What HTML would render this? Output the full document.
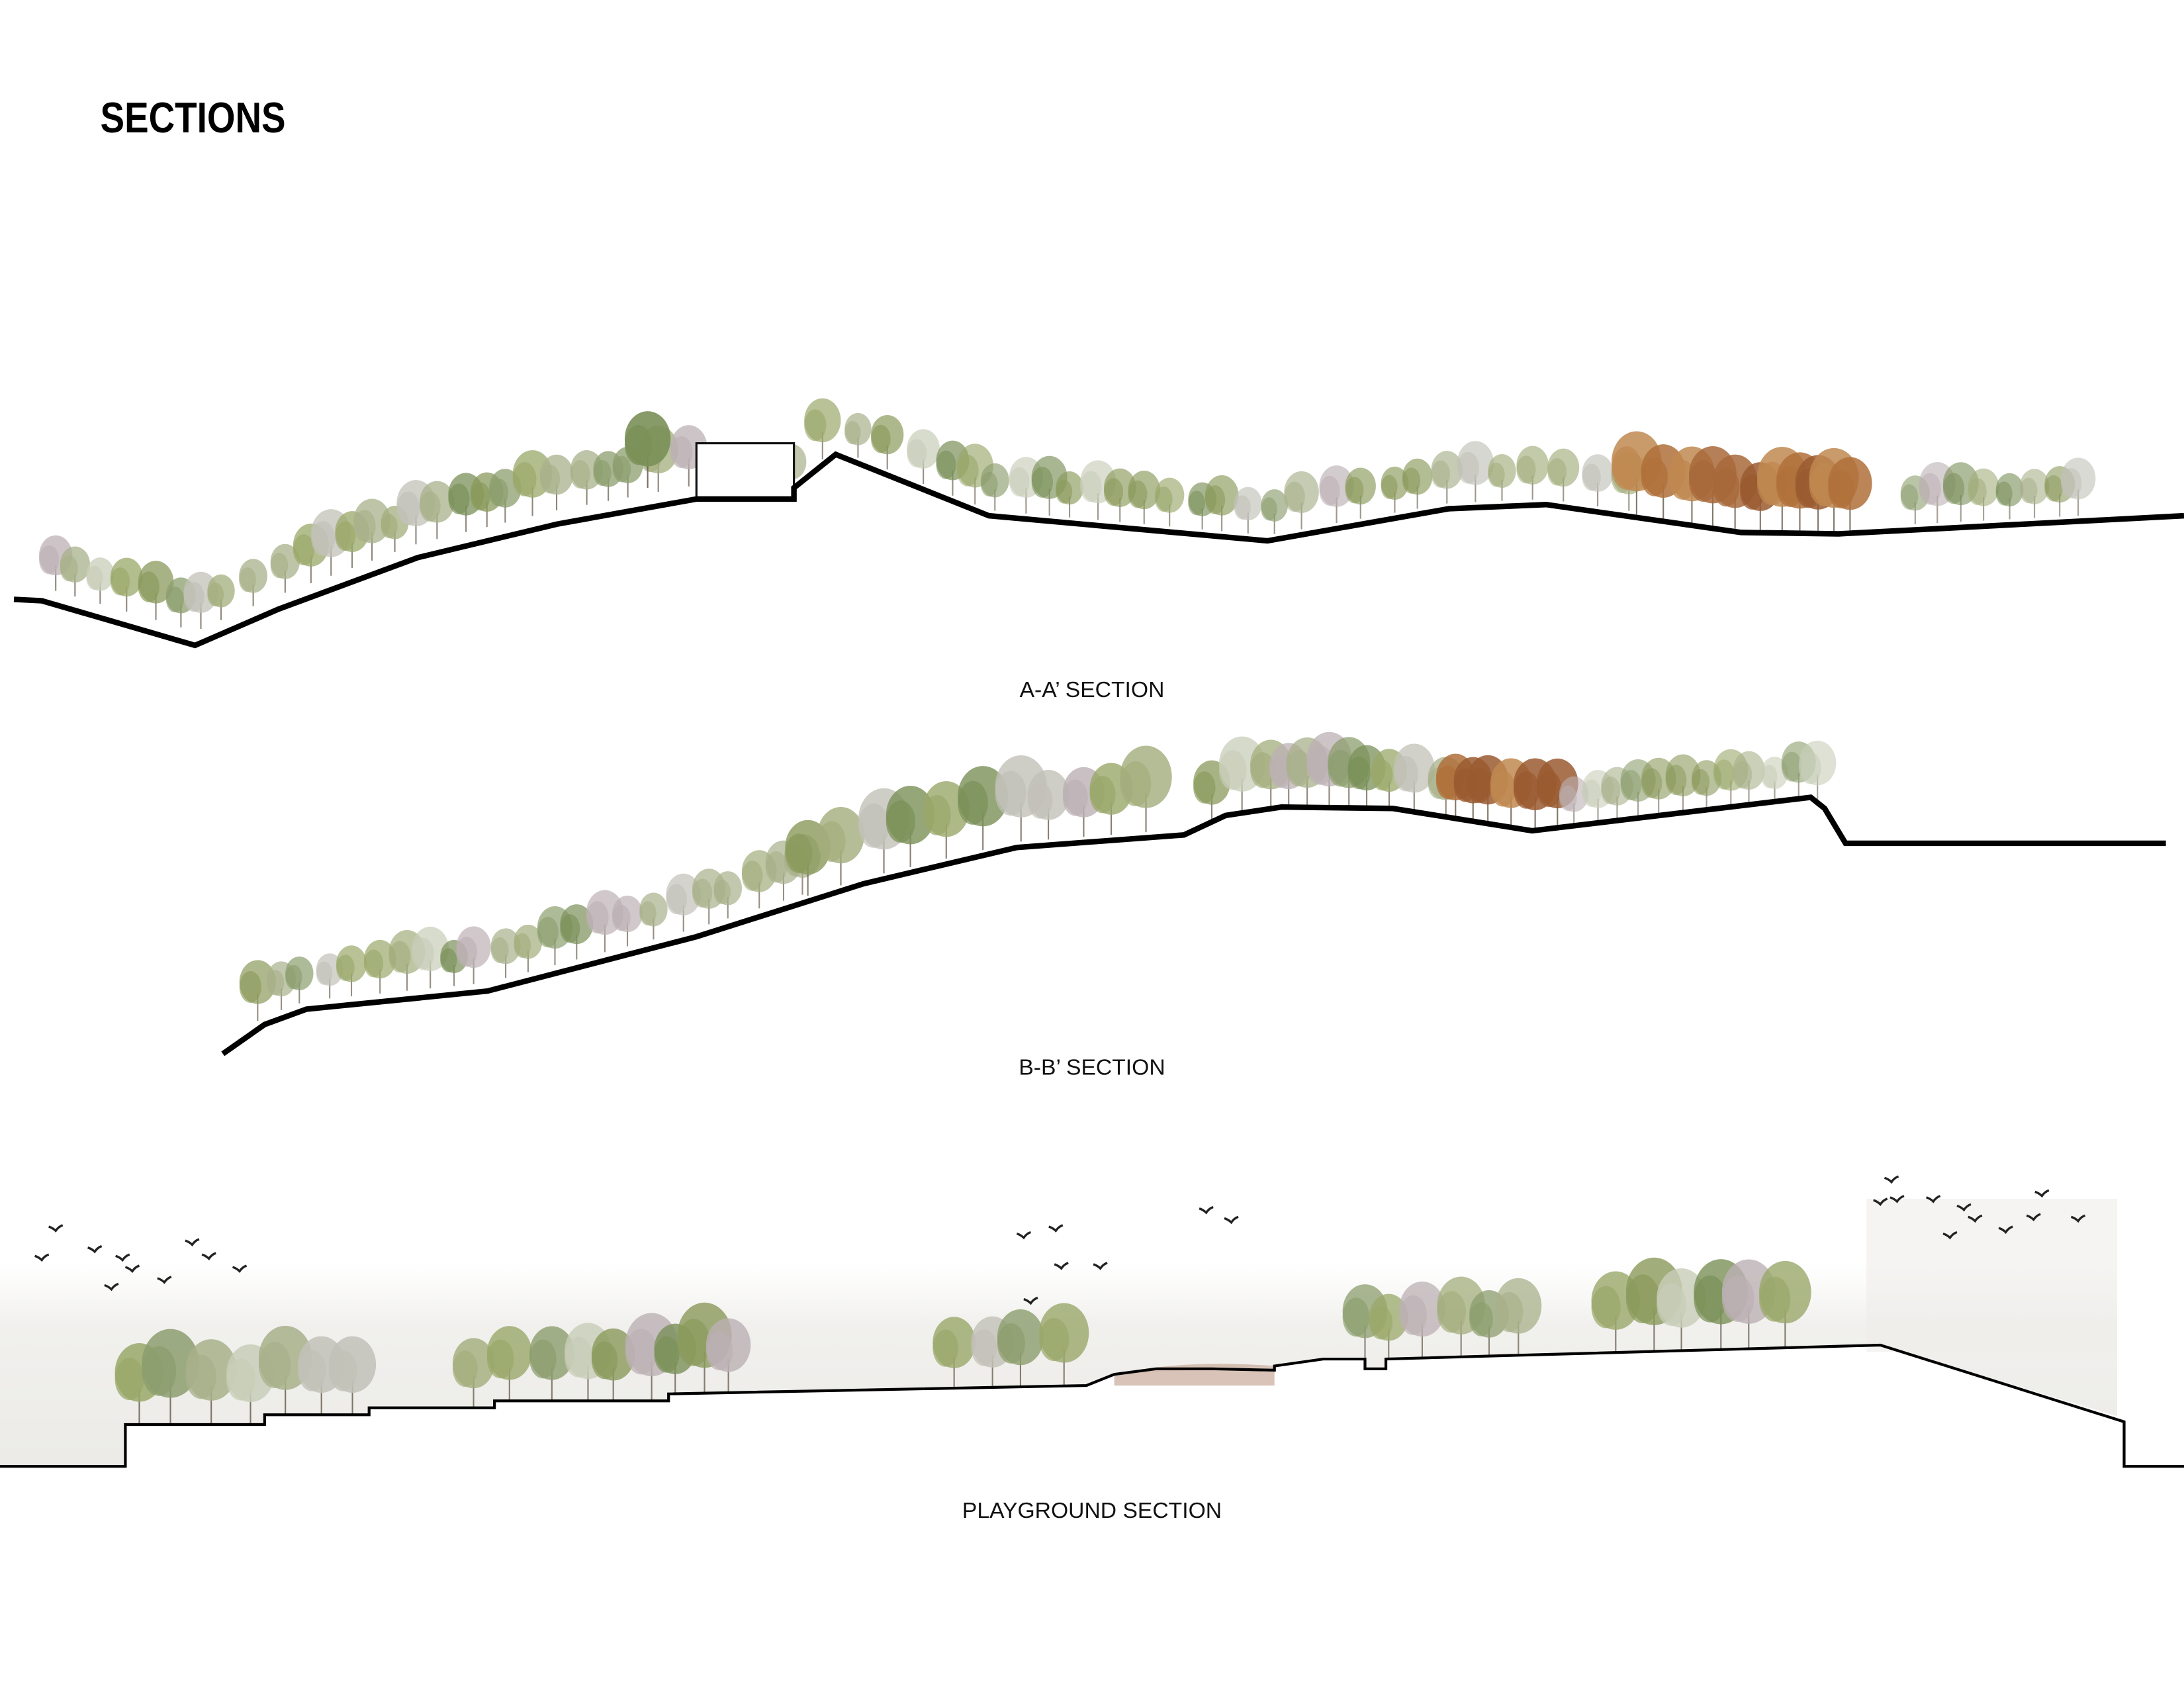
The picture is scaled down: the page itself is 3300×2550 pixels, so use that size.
<!DOCTYPE html>
<html><head><meta charset="utf-8">
<style>
html,body{margin:0;padding:0;background:#fff;}
svg{display:block;}
</style></head>
<body>
<svg id="s" width="3300" height="2550" viewBox="0 0 1568 1211" preserveAspectRatio="none" xmlns="http://www.w3.org/2000/svg">
<defs>
<linearGradient id="haze" x1="0" y1="0" x2="0" y2="1">
<stop offset="0" stop-color="#f2f1ee" stop-opacity="0"/>
<stop offset="0.3" stop-color="#ebeae6" stop-opacity="0.7"/>
<stop offset="1" stop-color="#e8e7e3" stop-opacity="0.85"/>
</linearGradient>
</defs>
<g id="bg"></g>
<g id="trees"></g>
<text x="72" y="95" font-family="'Liberation Sans Narrow','Liberation Sans',sans-serif" font-weight="bold" font-size="31" fill="#000" transform="translate(72 0) scale(0.84 1) translate(-72 0)">SECTIONS</text>
<rect x="500" y="318" width="70" height="40" fill="#fff" stroke="#111" stroke-width="1.5"/>
<polyline fill="none" stroke="#000" stroke-width="4" points="10,430 30,431 140,463 200,437 300,400 400,376 500,358 570,358 570,350 600,326 710,370 910,388 1040,365 1110,362 1250,382 1320,383 1568,370"/>
<polyline fill="none" stroke="#000" stroke-width="4" points="160,756 190,735 220,724 350,711 500,672 620,634 730,608 850,599 880,585 920,579 1000,580 1100,596 1300,572 1310,580 1325,605 1555,605"/>
<polyline fill="none" stroke="#000" stroke-width="2" points="0,1052 90,1052 90,1022 190,1022 190,1015 265,1015 265,1010 355,1010 355,1005 480,1005 480,1000 780,994 800,986 830,982 870,982 915,983 915,980 950,975 980,975 980,982 995,982 995,975 1100,972 1350,965 1525,1020 1525,1052 1568,1052"/>
<g font-family="'Liberation Sans',sans-serif" font-size="16" fill="#111" text-anchor="middle">
<text x="784" y="500">A-A’ SECTION</text>
<text x="784" y="771">B-B’ SECTION</text>
<text x="784" y="1089">PLAYGROUND SECTION</text>
</g>
<g id="birds" fill="none" stroke="#222" stroke-width="1.6"></g>
</svg>
<script>
var NS="http://www.w3.org/2000/svg";
function el(t,a,p){var e=document.createElementNS(NS,t);for(var k in a)e.setAttribute(k,a[k]);p.appendChild(e);return e;}
var T=document.getElementById('trees'),B=document.getElementById('bg');
el('polygon',{points:"0,905 1520,905 1520,1016 1350,965 1100,972 995,975 995,982 980,982 980,975 950,975 915,980 800,986 780,994 480,1000 480,1005 355,1005 355,1010 265,1010 265,1015 190,1015 190,1022 90,1022 90,1052 0,1052",fill:'url(#haze)'},B);
el('rect',{x:1340,y:860,width:180,height:110,fill:'#eeedea',opacity:0.6},B);
function seed(n){return function(){n=(n*9301+49297)%233280;return n/233280;}}
var r=seed(7);
function ys(pts,x){for(var i=0;i<pts.length-1;i++){var a=pts[i],b=pts[i+1];if(x>=a[0]&&x<=b[0]){return a[1]+(b[1]-a[1])*(x-a[0])/((b[0]-a[0])||1);}}return null;}
var greens=['#8a9a5b','#7a9058','#9aa86a','#a8b08a','#c2c1b8','#bcb0b4','#8c9e6e','#c8cdb8','#a3ad7c'];
var autumn=['#b0703a','#9a5a30','#c08850','#a8683a'];
function tree(x,y,h,c,op){
el('line',{x1:x,y1:y,x2:x,y2:y-h*0.45,stroke:'#6a6050','stroke-width':1,opacity:op},T);
var w=h*0.3;
el('ellipse',{cx:x,cy:y-h*0.64,rx:w,ry:h*0.36,fill:c,opacity:op},T);
el('ellipse',{cx:x-w*0.4,cy:y-h*0.56,rx:w*0.6,ry:h*0.26,fill:c,opacity:op*0.9},T);
}
function row(pts,x0,x1,step,hmin,hmax,pal,op,sub){
for(var x=x0;x<=x1;x+=step*(0.7+r()*0.6)){var y=ys(pts,x);if(y==null)continue;y-=(sub||0);
tree(x,y,hmin+r()*(hmax-hmin),pal[Math.floor(r()*pal.length)],op);}}
var A=[[10,430],[30,431],[140,463],[200,437],[300,400],[400,376],[500,358],[570,358],[570,350],[600,326],[710,370],[910,388],[1040,365],[1110,362],[1250,382],[1320,383],[1568,370]];
row(A,40,495,18,32,48,greens,0.75,10);
tree(465,350,55,'#7a9058',0.9);
row(A,550,700,20,32,48,greens,0.7,4);
row(A,700,1170,20,32,45,greens,0.65,4);
row(A,1175,1340,16,48,60,autumn,0.85,2);
row(A,1375,1505,18,32,45,greens,0.6,4);
var Bp=[[160,756],[190,735],[220,724],[350,711],[500,672],[620,634],[730,608],[850,599],[880,585],[920,579],[1000,580],[1100,596],[1300,572],[1310,580]];
row(Bp,185,580,18,32,45,greens,0.7,6);
row(Bp,580,840,26,50,68,greens,0.8,4);
row(Bp,870,1040,18,42,55,greens,0.75,0);
row(Bp,1045,1120,14,45,55,autumn,0.85,0);
row(Bp,1130,1310,18,32,45,greens,0.6,0);
var P=[[90,1022],[190,1022],[190,1015],[265,1015],[265,1010],[355,1010],[355,1005],[480,1005],[480,1000],[780,994],[800,986],[950,975],[995,975],[1100,972],[1350,965]];
row(P,100,260,24,55,70,greens,0.85,0);
row(P,340,530,24,50,65,greens,0.8,0);
row(P,685,775,28,50,60,greens,0.8,0);
row(P,980,1110,24,45,58,greens,0.75,0);
row(P,1160,1305,22,55,68,greens,0.8,0);
el('path',{d:'M800,986 Q850,975 915,980 L915,994 L800,994 Z',fill:'#c9a99a',opacity:0.7},T);
var BD=document.getElementById('birds');
[[40,883],[30,904],[68,898],[88,904],[95,912],[118,920],[138,893],[150,903],[172,912],[80,925],[735,888],[758,883],[740,935],[762,910],[790,910],[866,870],[884,877],[1358,848],[1362,862],[1388,862],[1410,868],[1418,876],[1440,884],[1466,858],[1492,876],[1400,888],[1460,875],[1350,864]].forEach(function(p){
el('path',{d:'M'+(p[0]-5)+','+(p[1]-3)+' Q'+(p[0]-2)+','+(p[1]-2)+' '+p[0]+','+p[1]+' Q'+(p[0]+2)+','+(p[1]-3)+' '+(p[0]+5)+','+(p[1]-4)},BD);});
</script>
</body></html>
